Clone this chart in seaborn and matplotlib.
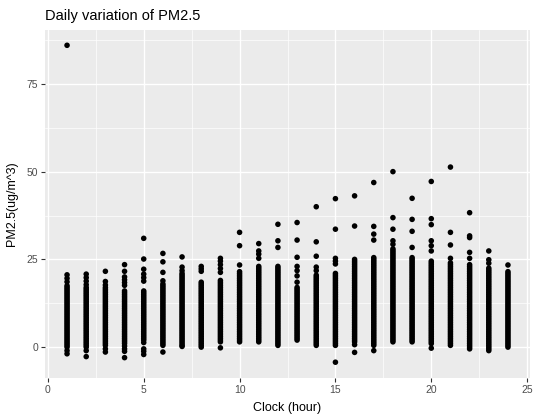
import matplotlib
matplotlib.use("Agg")
import matplotlib.pyplot as plt
import seaborn as sns
import pandas as pd
from matplotlib.ticker import MultipleLocator

# ---- data (dense columns read at 0.5 resolution) ----
h01 = [86.0, 20.6, 19.6, 18.6, 17.5, 17, 16.5, 16, 15.5, 15, 14.5, 14, 13.5, 13, 12.5, 12, 11.5, 11, 10.5, 10, 9.5, 9, 8.5, 8, 7.5, 7, 6.5, 6, 5.5, 5, 4.5, 4, 3.5, 3, 2.5, 2, 1.5, 1, 0.5, 0, -1.0, -1.9]
h02 = [20.8, 19.8, 18.8, 17.8, 17, 16.5, 16, 15.5, 15, 14.5, 14, 13.5, 13, 12.5, 12, 11.5, 11, 10.5, 10, 9.5, 9, 8.5, 8, 7.5, 7, 6.5, 6, 5.5, 5, 4.5, 4, 3.5, 3, 2.5, 2, 1.5, 1, 0.5, 0, -1.0, -2.7]
h03 = [21.6, 18.7, 17.7, 17, 16.5, 16, 15.5, 15, 14.5, 14, 13.5, 13, 12.5, 12, 11.5, 11, 10.5, 10, 9.5, 9, 8.5, 8, 7.5, 7, 6.5, 6, 5.5, 5, 4.5, 4, 3.5, 3, 2.5, 2, 1.5, 1, 0.5, -0.5, -1.4]
h04 = [23.5, 21.6, 20.0, 19.2, 18.4, 17.6, 16, 15.5, 15, 14.5, 14, 13.5, 13, 12.5, 12, 11.5, 11, 10.5, 10, 9.5, 9, 8.5, 8, 7.5, 7, 6.5, 6, 5.5, 5, 4.5, 4, 3.5, 3, 2.5, 2, 1.5, 1, 0.3, -0.5, -1.2, -3.0]
h05 = [31.0, 25.1, 22.2, 20.8, 19.8, 18.8, 16, 15.5, 15, 14.5, 14, 13.5, 13, 12.5, 12, 11.5, 11, 10.5, 10, 9.5, 9, 8.5, 8, 7.5, 7, 6.5, 6, 5.5, 5, 4.5, 4, 3.5, 3, 2.5, 2, 1.3, -0.5, -1.2, -2.1]
h06 = [26.7, 24.3, 21.3, 18.9, 18, 17.5, 17, 16.5, 16, 15.5, 15, 14.5, 14, 13.5, 13, 12.5, 12, 11.5, 11, 10.5, 10, 9.5, 9, 8.5, 8, 7.5, 7, 6.5, 6, 5.5, 5, 4.5, 4, 3.5, 3, 2.5, 2, 1.5, 1, 0.5, -1.4]
h07 = [25.7, 22.8, 21.8, 21, 20.5, 20, 19.5, 19, 18.5, 18, 17.5, 17, 16.5, 16, 15.5, 15, 14.5, 14, 13.5, 13, 12.5, 12, 11.5, 11, 10.5, 10, 9.5, 9, 8.5, 8, 7.5, 7, 6.5, 6, 5.5, 5, 4.5, 4, 3.5, 3, 2.5, 2, 1.5, 1, 0.5, 0.2]
h08 = [23.0, 22.3, 21.6, 18.5, 18, 17.5, 17, 16.5, 16, 15.5, 15, 14.5, 14, 13.5, 13, 12.5, 12, 11.5, 11, 10.5, 10, 9.5, 9, 8.5, 8, 7.5, 7, 6.5, 6, 5.5, 5, 4.5, 4, 3.5, 3, 2.5, 2, 1.5, 1, 0.5, 0]
h09 = [25.3, 24.5, 23.5, 22.4, 21.3, 19, 18.5, 18, 17.5, 17, 16.5, 16, 15.5, 15, 14.5, 14, 13.5, 13, 12.5, 12, 11.5, 11, 10.5, 10, 9.5, 9, 8.5, 8, 7.5, 7, 6.5, 6, 5.5, 5, 4.5, 4, 3.5, 3, 2.5, 2, 1.5, -0.2]
h10 = [32.7, 28.9, 23.4, 21.5, 21, 20.5, 20, 19.5, 19, 18.5, 18, 17.5, 17, 16.5, 16, 15.5, 15, 14.5, 14, 13.5, 13, 12.5, 12, 11.5, 11, 10.5, 10, 9.5, 9, 8.5, 8, 7.5, 7, 6.5, 6, 5.5, 5, 4.5, 4, 3.5, 3, 2.5, 2, 1.5]
h11 = [29.5, 27.4, 26.5, 25.3, 23, 22.5, 22, 21.5, 21, 20.5, 20, 19.5, 19, 18.5, 18, 17.5, 17, 16.5, 16, 15.5, 15, 14.5, 14, 13.5, 13, 12.5, 12, 11.5, 11, 10.5, 10, 9.5, 9, 8.5, 8, 7.5, 7, 6.5, 6, 5.5, 5, 4.5, 4, 3.5, 3, 2.5, 2, 1.5]
h12 = [35.0, 30.3, 28.4, 23, 22.5, 22, 21.5, 21, 20.5, 20, 19.5, 19, 18.5, 18, 17.5, 17, 16.5, 16, 15.5, 15, 14.5, 14, 13.5, 13, 12.5, 12, 11.5, 11, 10.5, 10, 9.5, 9, 8.5, 8, 7.5, 7, 6.5, 6, 5.5, 5, 4.5, 4, 3.5, 3, 2.5, 2, 1.5, 1, 0.5]
h13 = [35.5, 30.5, 25.6, 23.0, 21.8, 20.3, 18.5, 17, 16.5, 16, 15.5, 15, 14.5, 14, 13.5, 13, 12.5, 12, 11.5, 11, 10.5, 10, 9.5, 9, 8.5, 8, 7.5, 7, 6.5, 6, 5.5, 5, 4.5, 4, 3.5, 3, 2.5, 2]
h14 = [40.0, 30.0, 25.9, 22.8, 21.8, 20.5, 20, 19.5, 19, 18.5, 18, 17.5, 17, 16.5, 16, 15.5, 15, 14.5, 14, 13.5, 13, 12.5, 12, 11.5, 11, 10.5, 10, 9.5, 9, 8.5, 8, 7.5, 7, 6.5, 6, 5.5, 5, 4.5, 4, 3.5, 3, 2.5, 2, 1.5, 1, 0.5]
h15 = [42.3, 33.6, 25.3, 24.5, 23.7, 21, 20.5, 20, 19.5, 19, 18.5, 18, 17.5, 17, 16.5, 16, 15.5, 15, 14.5, 14, 13.5, 13, 12.5, 12, 11.5, 11, 10.5, 10, 9.5, 9, 8.5, 8, 7.5, 7, 6.5, 6, 5.5, 5, 4.5, 4, 3.5, 3, 2.5, 2, 1.5, 1, 0.5, -4.3]
h16 = [43.1, 34.5, 25, 24.5, 24, 23.5, 23, 22.5, 22, 21.5, 21, 20.5, 20, 19.5, 19, 18.5, 18, 17.5, 17, 16.5, 16, 15.5, 15, 14.5, 14, 13.5, 13, 12.5, 12, 11.5, 11, 10.5, 10, 9.5, 9, 8.5, 8, 7.5, 7, 6.5, 6, 5.5, 5, 4.5, 4, 3.5, 3, 2.5, 2, 1.5, 0.7, -1.5]
h17 = [46.9, 34.4, 32.2, 30.5, 25.5, 25, 24.5, 24, 23.5, 23, 22.5, 22, 21.5, 21, 20.5, 20, 19.5, 19, 18.5, 18, 17.5, 17, 16.5, 16, 15.5, 15, 14.5, 14, 13.5, 13, 12.5, 12, 11.5, 11, 10.5, 10, 9.5, 9, 8.5, 8, 7.5, 7, 6.5, 6, 5.5, 5, 4.5, 4, 3.5, 3, 2.5, 2, 1.5, 1, 0.5, -1.0]
h18 = [50.0, 36.9, 33.6, 30.3, 29.3, 28, 27.5, 27, 26.5, 26, 25.5, 25, 24.5, 24, 23.5, 23, 22.5, 22, 21.5, 21, 20.5, 20, 19.5, 19, 18.5, 18, 17.5, 17, 16.5, 16, 15.5, 15, 14.5, 14, 13.5, 13, 12.5, 12, 11.5, 11, 10.5, 10, 9.5, 9, 8.5, 8, 7.5, 7, 6.5, 6, 5.5, 5, 4.5, 4, 3.5, 3, 2.5, 2, 1.5]
h19 = [42.4, 36.4, 33.0, 28.4, 25.5, 25, 24.5, 24, 23.5, 23, 22.5, 22, 21.5, 21, 20.5, 20, 19.5, 19, 18.5, 18, 17.5, 17, 16.5, 16, 15.5, 15, 14.5, 14, 13.5, 13, 12.5, 12, 11.5, 11, 10.5, 10, 9.5, 9, 8.5, 8, 7.5, 7, 6.5, 6, 5.5, 5, 4.5, 4, 3.5, 3, 2.5, 2, 1.5]
h20 = [47.2, 36.6, 34.9, 30.3, 28.9, 27.4, 24.5, 24, 23.5, 23, 22.5, 22, 21.5, 21, 20.5, 20, 19.5, 19, 18.5, 18, 17.5, 17, 16.5, 16, 15.5, 15, 14.5, 14, 13.5, 13, 12.5, 12, 11.5, 11, 10.5, 10, 9.5, 9, 8.5, 8, 7.5, 7, 6.5, 6, 5.5, 5, 4.5, 4, 3.5, 3, 2.5, 2, 1.5, 1, -0.3]
h21 = [51.3, 32.7, 29.1, 25.3, 24, 23.5, 23, 22.5, 22, 21.5, 21, 20.5, 20, 19.5, 19, 18.5, 18, 17.5, 17, 16.5, 16, 15.5, 15, 14.5, 14, 13.5, 13, 12.5, 12, 11.5, 11, 10.5, 10, 9.5, 9, 8.5, 8, 7.5, 7, 6.5, 6, 5.5, 5, 4.5, 4, 3.5, 3, 2.5, 2, 1.5, 1, 0.5]
h22 = [38.3, 31.7, 31.2, 27.0, 25.3, 23.5, 23, 22.5, 22, 21.5, 21, 20.5, 20, 19.5, 19, 18.5, 18, 17.5, 17, 16.5, 16, 15.5, 15, 14.5, 14, 13.5, 13, 12.5, 12, 11.5, 11, 10.5, 10, 9.5, 9, 8.5, 8, 7.5, 7, 6.5, 6, 5.5, 5, 4.5, 4, 3.5, 3, 2.5, 2, 1.5, 1, 0.5, 0, -0.5]
h23 = [27.4, 24.9, 23.9, 22.5, 22, 21.5, 21, 20.5, 20, 19.5, 19, 18.5, 18, 17.5, 17, 16.5, 16, 15.5, 15, 14.5, 14, 13.5, 13, 12.5, 12, 11.5, 11, 10.5, 10, 9.5, 9, 8.5, 8, 7.5, 7, 6.5, 6, 5.5, 5, 4.5, 4, 3.5, 3, 2.5, 2, 1.5, 1, 0.5, 0, -0.5, -1.0]
h24 = [23.4, 21.5, 21, 20.5, 20, 19.5, 19, 18.5, 18, 17.5, 17, 16.5, 16, 15.5, 15, 14.5, 14, 13.5, 13, 12.5, 12, 11.5, 11, 10.5, 10, 9.5, 9, 8.5, 8, 7.5, 7, 6.5, 6, 5.5, 5, 4.5, 4, 3.5, 3, 2.5, 2, 1.5, 1, 0.5, 0]

hour_values = [h01, h02, h03, h04, h05, h06, h07, h08, h09, h10, h11, h12,
               h13, h14, h15, h16, h17, h18, h19, h20, h21, h22, h23, h24]
hours = list(range(1, 25))

x_ticks = [0, 5, 10, 15, 20, 25]
y_ticks = [0, 25, 50, 75]

title = "Daily variation of PM2.5"
x_label = "Clock (hour)"
y_label = "PM2.5(ug/m^3)"

rows = []
for h, vals in zip(hours, hour_values):
    for v in vals:
        rows.append({"hour": h, "pm25": v})
df = pd.DataFrame(rows)

# ---- style (ggplot2 theme_gray look) ----
sns.set_style("darkgrid", {
    "axes.facecolor": "#EBEBEB",
    "grid.color": "white",
    "axes.edgecolor": "#EBEBEB",
})
plt.rcParams["font.family"] = ["Liberation Sans", "DejaVu Sans"]

fig = plt.figure(figsize=(5.38, 4.17), dpi=100)
ax = fig.add_axes([45 / 538, 1 - 378 / 417, (530 - 45) / 538, (378 - 29.5) / 417])

sns.scatterplot(data=df, x="hour", y="pm25", ax=ax, color="black",
                s=16, edgecolor="none", linewidth=0, legend=False, zorder=3)

ax.set_xlim(-0.15, 25.15)
ax.set_ylim(-8.8, 90.5)
ax.set_xticks(x_ticks)
ax.set_yticks(y_ticks)
ax.xaxis.set_minor_locator(MultipleLocator(2.5))
ax.yaxis.set_minor_locator(MultipleLocator(12.5))
ax.grid(which="major", color="white", linewidth=1.0)
ax.grid(which="minor", color="white", linewidth=0.5)
for s in ax.spines.values():
    s.set_visible(False)

ax.tick_params(axis="both", which="major", length=3, width=0.8, color="#333333",
               labelcolor="#4D4D4D", labelsize=7.5, pad=2, direction="out",
               bottom=True, left=True)
ax.tick_params(axis="both", which="minor", length=0)

ax.set_xlabel(x_label, fontsize=9, color="black", labelpad=5)
ax.set_ylabel(y_label, fontsize=9, color="black", labelpad=6)
ax.set_title(title, fontsize=10.5, color="black", loc="left", pad=7, x=0.0)

fig.savefig("out.png", dpi=100)
